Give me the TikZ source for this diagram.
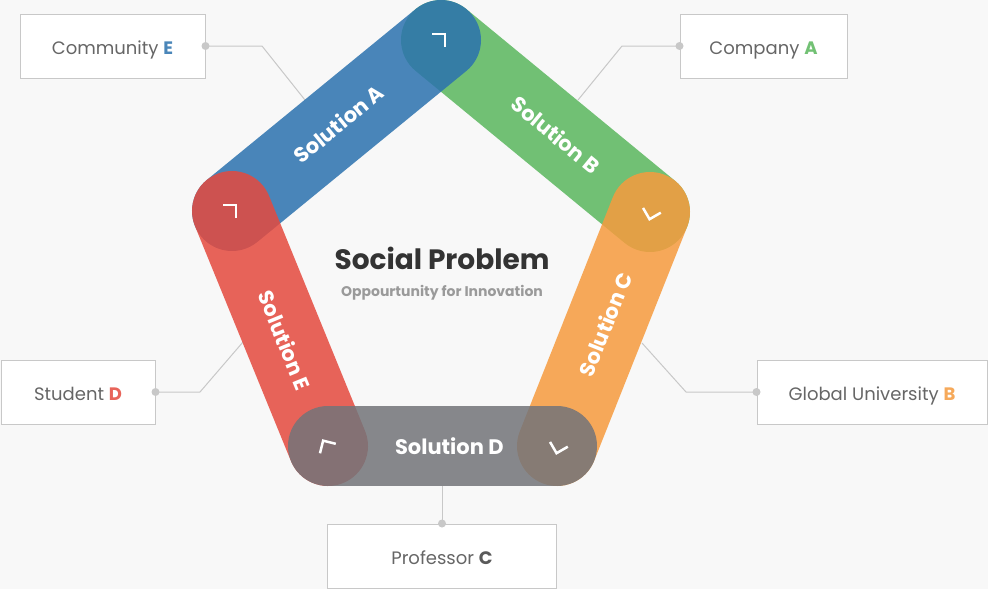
\documentclass[tikz,border=0pt]{standalone}
\usepackage{fontspec}
\setmainfont{Poppins}
\usepackage{xcolor}
\usepackage{tikz}
\usetikzlibrary{calc,positioning}
\definecolor{bgx}{HTML}{F8F8F8}
\definecolor{blueA}{HTML}{2B72AE}
\definecolor{greenB}{HTML}{5AB75D}
\definecolor{orangeC}{HTML}{F69B3E}
\definecolor{grayD}{HTML}{737479}
\definecolor{redE}{HTML}{E54A3E}
\colorlet{labA}{blueA!85!bgx}
\colorlet{labB}{greenB!85!bgx}
\colorlet{labC}{orangeC!85!bgx}
\colorlet{labE}{redE!85!bgx}
\definecolor{darkC}{HTML}{5A5A5A}
\definecolor{txtx}{HTML}{666666}
\definecolor{linex}{HTML}{C8C8C8}
\definecolor{ttlx}{HTML}{333333}
\definecolor{subx}{HTML}{9A9A9A}
\tikzset{
  bar/.style={line width=80pt,line cap=round,draw opacity=0.85},
  lbl/.style={sloped,text=white,font=\fontsize{21}{21}\selectfont\bfseries},
  box/.style={draw=linex,fill=white,line width=1pt,minimum height=64pt,text=txtx,
    text height=16pt,text depth=0pt,font=\fontsize{18}{20}\selectfont},
  lead/.style={linex,line width=1pt},
  dot/.style={circle,fill=linex,inner sep=0pt,minimum size=8pt},
  chev/.pic={\draw[white,line width=2.5pt] (-9,-6) -- (4,-6) -- (4,7);}
}
\begin{document}
\begin{tikzpicture}[x=1pt,y=-1pt]
\useasboundingbox (0,0) rectangle (988,589);
\fill[bgx] (0,0) rectangle (988,589);
\coordinate (vT) at (441,40);
\coordinate (vR) at (650,212);
\coordinate (vBR) at (557,446);
\coordinate (vBL) at (328,446);
\coordinate (vL) at (232,211);
% boxes
\node[box,minimum width=185pt] (comE) at (112.5,46) {Community \textcolor{labA}{\bfseries E}};
\node[box,minimum width=167pt] (comA) at (763.5,46) {Company \textcolor{labB}{\bfseries A}};
\node[box,minimum width=230pt] (uniB) at (872,392) {Global University \textcolor{labC}{\bfseries B}};
\node[box,minimum width=154pt] (stuD) at (78,392) {Student \textcolor{labE}{\bfseries D}};
\node[box,minimum width=229pt] (proC) at (442,556) {Professor \textcolor{darkC}{\bfseries C}};
% leaders
\coordinate (kE) at (262,46);  \coordinate (eE) at (305,100);
\coordinate (kA) at (622,46);  \coordinate (eA) at (578,100);
\coordinate (kB) at (686,392); \coordinate (eB) at (642,343);
\coordinate (kD) at (200,392); \coordinate (eD) at (243,342);
\coordinate (eC) at (442,486);
\draw[lead] (comE.east) -- (kE) -- (eE);
\draw[lead] (comA.west) -- (kA) -- (eA);
\draw[lead] (uniB.west) -- (kB) -- (eB);
\draw[lead] (stuD.east) -- (kD) -- (eD);
\draw[lead] (proC.north) -- (eC);
\node[dot] (dE) at (comE.east) {};
\node[dot] (dA) at (comA.west) {};
\node[dot] (dB) at (uniB.west) {};
\node[dot] (dD) at (stuD.east) {};
\node[dot] (dC) at (proC.north) {};
% bars
\draw[bar,greenB] (vT) -- (vR);
\draw[bar,blueA] (vL) -- (vT);
\draw[bar,orangeC] (vBR) -- (vR);
\draw[bar,redE] (vL) -- (vBL);
\draw[bar,grayD] (vBL) -- (vBR);
\path (vL) -- (vT) node[lbl,pos=0.51] (sA) {Solution A};
\path (vT) -- (vR) node[lbl,pos=0.55] (sB) {Solution B};
\path (vBR) -- (vR) node[lbl,pos=0.52] (sC) {Solution C};
\path (vBL) -- (vBR) node[lbl,pos=0.53] (sD) {Solution D};
\path (vL) -- (vBL) node[lbl,pos=0.55] (sE) {Solution E};
\pic at (vT) {chev};
\pic at (vL) {chev};
\pic[rotate=210] at (vR) {chev};
\pic[rotate=210] at (vBR) {chev};
\pic[rotate=76] at (vBL) {chev};
% centre
\node[text=ttlx,font=\fontsize{28}{30}\selectfont\bfseries] (ttl) at (442,258) {Social Problem};
\node[below=9pt of ttl,text=subx,font=\fontsize{14}{15}\selectfont\bfseries] (sub) {Oppourtunity for Innovation};
\end{tikzpicture}
\end{document}
